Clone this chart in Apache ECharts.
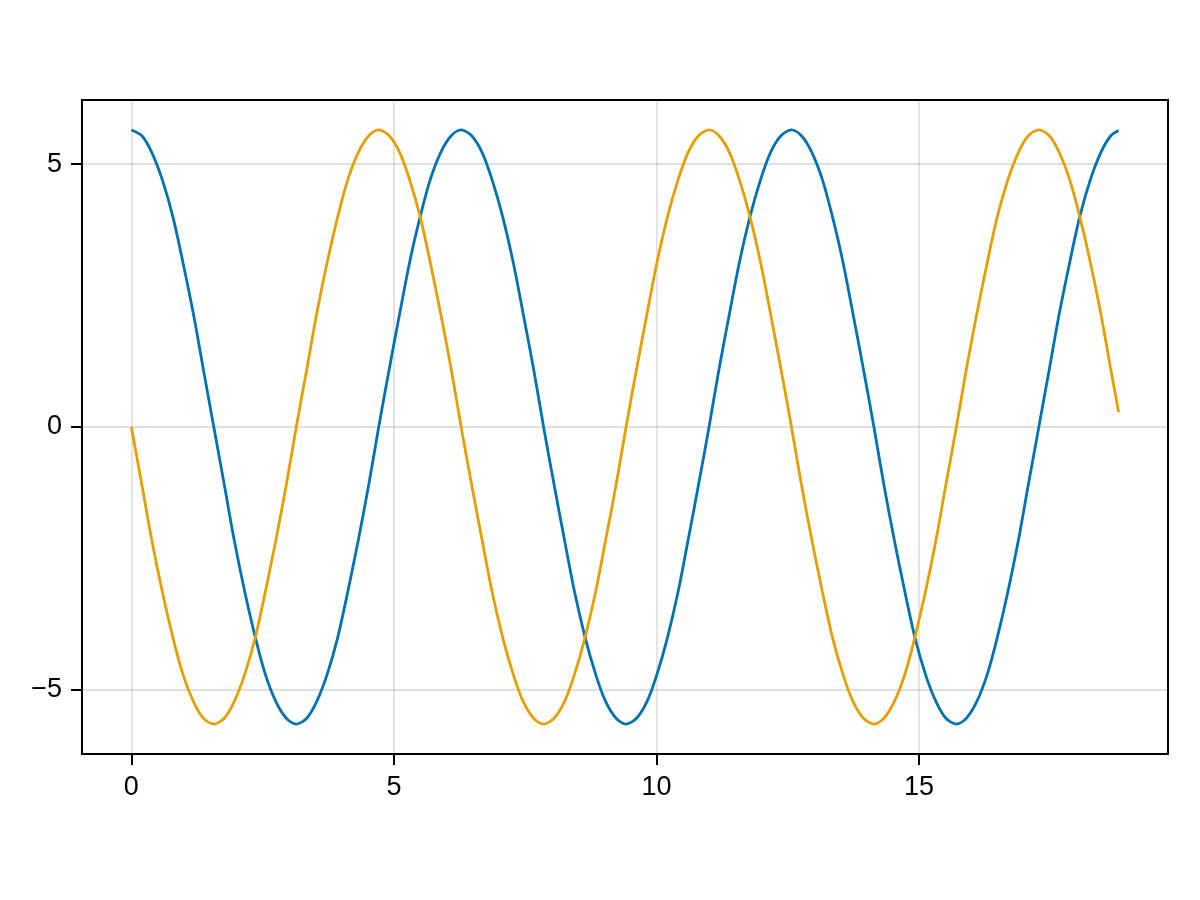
<!DOCTYPE html>
<html lang="en">
<head>
    <meta charset="UTF-8">
    <title>cos / sin</title>
    <script src="https://cdn.jsdelivr.net/npm/echarts@6.0.0/dist/echarts.min.js"></script>
    <style>
        html, body { margin: 0; padding: 0; background: #fff; }
        #chart { width: 1200px; height: 900px; }
    </style>
</head>
<body>
    <div id="chart"></div>
    <script>
        // x positions, one sample per 1/16 of a half wave
        var xs = [0, 0.20, 0.39, 0.59, 0.79, 0.98, 1.18, 1.37, 1.57, 1.77, 1.96, 2.16, 2.36, 2.55, 2.75, 2.95,
            3.14, 3.34, 3.53, 3.73, 3.93, 4.12, 4.32, 4.52, 4.71, 4.91, 5.11, 5.30, 5.50, 5.69, 5.89, 6.09,
            6.28, 6.48, 6.68, 6.87, 7.07, 7.27, 7.46, 7.66, 7.85, 8.05, 8.25, 8.44, 8.64, 8.84, 9.03, 9.23,
            9.42, 9.62, 9.82, 10.01, 10.21, 10.41, 10.60, 10.80, 11.00, 11.19, 11.39, 11.58, 11.78, 11.98, 12.17, 12.37,
            12.57, 12.76, 12.96, 13.16, 13.35, 13.55, 13.74, 13.94, 14.14, 14.33, 14.53, 14.73, 14.92, 15.12, 15.32, 15.51,
            15.71, 15.90, 16.10, 16.30, 16.49, 16.69, 16.89, 17.08, 17.28, 17.48, 17.67, 17.87, 18.06, 18.26, 18.46, 18.65,
            18.80];
        var blueVals = [
            5.65, 5.54, 5.22, 4.70, 4.00, 3.14, 2.16, 1.10, 0, -1.10, -2.16, -3.14, -4.00, -4.70, -5.22, -5.54,
            -5.65, -5.54, -5.22, -4.70, -4.00, -3.14, -2.16, -1.10, 0, 1.10, 2.16, 3.14, 4.00, 4.70, 5.22, 5.54,
            5.65, 5.54, 5.22, 4.70, 4.00, 3.14, 2.16, 1.10, 0, -1.10, -2.16, -3.14, -4.00, -4.70, -5.22, -5.54,
            -5.65, -5.54, -5.22, -4.70, -4.00, -3.14, -2.16, -1.10, 0, 1.10, 2.16, 3.14, 4.00, 4.70, 5.22, 5.54,
            5.65, 5.54, 5.22, 4.70, 4.00, 3.14, 2.16, 1.10, 0, -1.10, -2.16, -3.14, -4.00, -4.70, -5.22, -5.54,
            -5.65, -5.54, -5.22, -4.70, -4.00, -3.14, -2.16, -1.10, 0, 1.10, 2.16, 3.14, 4.00, 4.70, 5.22, 5.54,
            5.64];
        var orangeVals = [
            0, -1.10, -2.16, -3.14, -4.00, -4.70, -5.22, -5.54, -5.65, -5.54, -5.22, -4.70, -4.00, -3.14, -2.16, -1.10,
            0, 1.10, 2.16, 3.14, 4.00, 4.70, 5.22, 5.54, 5.65, 5.54, 5.22, 4.70, 4.00, 3.14, 2.16, 1.10,
            0, -1.10, -2.16, -3.14, -4.00, -4.70, -5.22, -5.54, -5.65, -5.54, -5.22, -4.70, -4.00, -3.14, -2.16, -1.10,
            0, 1.10, 2.16, 3.14, 4.00, 4.70, 5.22, 5.54, 5.65, 5.54, 5.22, 4.70, 4.00, 3.14, 2.16, 1.10,
            0, -1.10, -2.16, -3.14, -4.00, -4.70, -5.22, -5.54, -5.65, -5.54, -5.22, -4.70, -4.00, -3.14, -2.16, -1.10,
            0, 1.10, 2.16, 3.14, 4.00, 4.70, 5.22, 5.54, 5.65, 5.54, 5.22, 4.70, 4.00, 3.14, 2.16, 1.10,
            0.28];
        var xTicks = [0, 5, 10, 15];
        var yTicks = [-5, 0, 5];

        function pairs(vals) {
            return xs.map(function (x, i) { return [x, vals[i]]; });
        }
        function minus(v) {
            return String(v).replace('-', '\u2212');
        }

        var myChart = echarts.init(document.getElementById('chart'));
        var font = '"Liberation Sans", Arial, sans-serif';
        var axisCommon = function (ticks) {
            return {
                type: 'value',
                axisLine: { show: true, onZero: false, lineStyle: { color: '#000', width: 2 } },
                axisTick: { show: true, customValues: ticks, length: 11, inside: false, lineStyle: { color: '#000', width: 2 } },
                axisLabel: { customValues: ticks, margin: 20, fontSize: 27, color: '#000', fontFamily: font, formatter: minus },
                splitLine: { show: true, lineStyle: { color: 'rgba(0,0,0,0.12)', width: 1.8 } }
            };
        };
        var xAxis = axisCommon(xTicks);
        xAxis.min = -0.94;
        xAxis.max = 19.74;
        var yAxis = axisCommon(yTicks);
        yAxis.min = -6.22;
        yAxis.max = 6.22;

        var option = {
            animation: false,
            grid: {
                left: 82, right: 32, top: 100, bottom: 146,
                show: true,
                borderColor: '#000',
                borderWidth: 2,
                backgroundColor: 'transparent'
            },
            xAxis: xAxis,
            yAxis: yAxis,
            series: [
                {
                    type: 'line',
                    data: pairs(blueVals),
                    smooth: 0.3,
                    showSymbol: false,
                    lineStyle: { color: '#0072B2', width: 2.8 }
                },
                {
                    type: 'line',
                    data: pairs(orangeVals),
                    smooth: 0.3,
                    showSymbol: false,
                    lineStyle: { color: '#E69F00', width: 2.8 }
                }
            ]
        };
        myChart.setOption(option);
    </script>
</body>
</html>
